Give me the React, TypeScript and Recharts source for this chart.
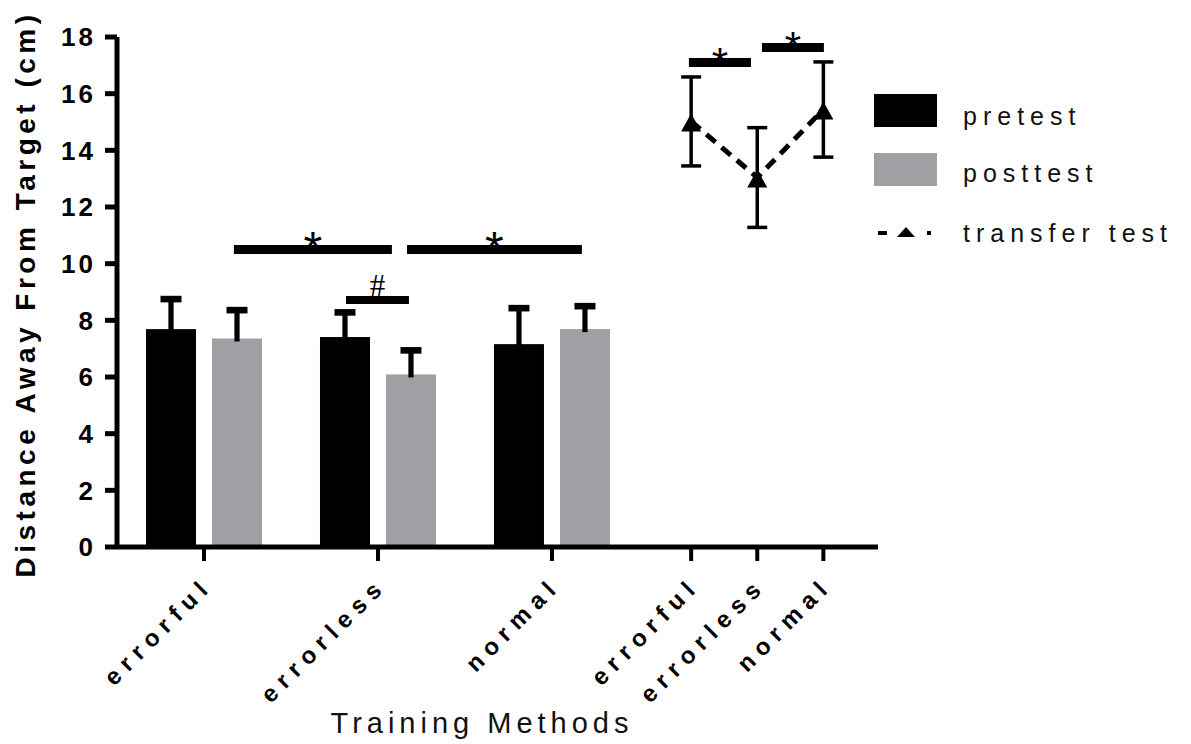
import React from 'react';
import { ComposedChart, Bar, Line, XAxis, YAxis, ErrorBar, ReferenceLine, Legend, Label } from 'recharts';

const FONT = '"Liberation Sans", Arial, sans-serif';
const SERIF = '"Liberation Serif", "Times New Roman", serif';

// ---- data ----
const methods = ['errorful', 'errorless', 'normal'];
const transferMethods = ['errorful', 'errorless', 'normal'];
const seriesNames = ['pretest', 'posttest', 'transfer test'];
const pretest = [7.69, 7.41, 7.16];
const pretestErr = [1.06, 0.87, 1.27];
const posttest = [7.36, 6.09, 7.69];
const posttestErr = [1.0, 0.85, 0.81];
const transfer = [15.02, 13.04, 15.44];
const transferErr = [1.57, 1.76, 1.68];
const yTicks = [0, 2, 4, 6, 8, 10, 12, 14, 16, 18];

// significance annotations (x in category-axis units, y in cm)
const sigBars = [
  { x1: 0.672, x2: 1.58, y: 10.5, label: '*', size: 48, serif: false, dy: 15, thick: 9 },
  { x1: 1.667, x2: 2.672, y: 10.5, label: '*', size: 48, serif: false, dy: 15, thick: 9 },
  { x1: 1.316, x2: 1.678, y: 8.72, label: '#', size: 31, serif: true, dy: -4, thick: 8 },
  { x1: 3.287, x2: 3.644, y: 17.1, label: '*', size: 42, serif: false, dy: 14, thick: 9 },
  { x1: 3.707, x2: 4.063, y: 17.63, label: '*', size: 42, serif: false, dy: 14, thick: 9 },
];

// ---- layout of the category slots on the numeric x axis ----
const barGroupPositions = [0.5, 1.5, 2.5];
const transferPositions = [3.3, 3.68, 4.06];
const X_DOMAIN: [number, number] = [0, 4.374];

const tickPositions = [...barGroupPositions, ...transferPositions];
const tickLabels = [...methods, ...transferMethods];

const barData = methods.map((m, i) => ({
  x: barGroupPositions[i],
  method: m,
  pretest: pretest[i],
  pretestErr: pretestErr[i],
  posttest: posttest[i],
  posttestErr: posttestErr[i],
}));

const transferData = transferMethods.map((m, i) => ({
  x: transferPositions[i],
  method: m,
  transfer: transfer[i],
  transferErr: transferErr[i],
}));

const makeBarShape = (valueKey: string, errKey: string) => (props: any) => {
  const { x, y, width, height, fill, payload } = props;
  if (x == null || !isFinite(y) || !isFinite(height) || height <= 0) return null;
  const v = payload[valueKey];
  const e = payload[errKey];
  const pxPerUnit = height / v;
  const errPx = e * pxPerUnit;
  const cx = x + width / 2;
  const top = y - errPx;
  return (
    <g>
      <rect x={x} y={y} width={width} height={height} fill={fill} />
      <rect x={cx - 2.6} y={top} width={5.2} height={errPx + 3} fill="#000" />
      <rect x={cx - 10.5} y={top - 3.3} width={21} height={6.6} fill="#000" />
    </g>
  );
};

const TriangleDot = (props: any) => {
  const { cx, cy } = props;
  if (cx == null || cy == null || !isFinite(cy)) return null;
  return <path d={`M${cx},${cy - 8} L${cx + 10},${cy + 10} L${cx - 10},${cy + 10} Z`} fill="#000" />;
};

const XTick = (props: any) => {
  const { x, y, index } = props;
  return (
    <g transform={`translate(${x + 10},${y + 24})`}>
      <text
        transform="rotate(-45)"
        textAnchor="end"
        fontSize={24}
        fontWeight="bold"
        fontFamily={FONT}
        letterSpacing={7}
        fill="#000"
      >
        {tickLabels[index]}
      </text>
    </g>
  );
};

const XTitle = () => (
  <text x={482} y={733} textAnchor="middle" fontSize={29} fontFamily={FONT} letterSpacing={5} fill="#111">
    Training Methods
  </text>
);

const YTitle = () => (
  <text
    x={35}
    y={294}
    transform="rotate(-90, 35, 294)"
    textAnchor="middle"
    fontSize={28}
    fontWeight="bold"
    fontFamily={FONT}
    letterSpacing={4.5}
    fill="#000"
  >
    Distance Away From Target (cm)
  </text>
);

const sigLabel = (s: typeof sigBars[number]) => (props: any) => {
  const vb = props.viewBox || {};
  const cx = (vb.x || 0) + (vb.width || 0) / 2;
  return (
    <text
      x={cx}
      y={(vb.y || 0) + s.dy}
      textAnchor="middle"
      fontSize={s.size}
      fontFamily={s.serif ? SERIF : FONT}
      fill="#000"
    >
      {s.label}
    </text>
  );
};

const LegendContent = () => (
  <svg width={320} height={170} style={{ display: 'block' }}>
    <rect x={8} y={9} width={63} height={33} fill="#000" />
    <rect x={8} y={68} width={63} height={33} fill="#a0a0a4" />
    <rect x={12} y={146} width={9} height={4} fill="#000" />
    <path d="M40,142 L49,152 L31,152 Z" fill="#000" />
    <rect x={61} y={146} width={4} height={4} fill="#000" />
    {seriesNames.map((n, i) => (
      <text
        key={n}
        x={97}
        y={[40, 97, 157][i]}
        fontSize={25}
        fontFamily={FONT}
        letterSpacing={6}
        fill="#111"
      >
        {n}
      </text>
    ))}
  </svg>
);

export default function App() {
  return (
    <div style={{ position: 'absolute', left: 0, top: 0, width: 1191, height: 744, background: '#fff' }}>
      <ComposedChart
        width={1191}
        height={744}
        data={barData}
        margin={{ top: 37, right: 313, bottom: 0, left: 0 }}
        barGap={16}
      >
        <XAxis
          type="number"
          dataKey="x"
          domain={X_DOMAIN}
          ticks={tickPositions}
          interval={0}
          allowDataOverflow
          height={197}
          tickSize={14}
          tickLine={{ stroke: '#000', strokeWidth: 4 }}
          axisLine={{ stroke: '#000', strokeWidth: 5 }}
          tick={<XTick />}
        >
          <Label content={<XTitle />} />
        </XAxis>
        <XAxis
          xAxisId="bars"
          type="number"
          dataKey="x"
          domain={X_DOMAIN}
          ticks={barGroupPositions}
          allowDataOverflow
          hide
        />
        <YAxis
          type="number"
          domain={[0, 18]}
          ticks={yTicks}
          interval={0}
          width={117}
          tickSize={12}
          tickMargin={9}
          tickLine={{ stroke: '#000', strokeWidth: 5 }}
          axisLine={{ stroke: '#000', strokeWidth: 5 }}
          tick={{ fill: '#000', fontSize: 26, fontWeight: 'bold', fontFamily: FONT, letterSpacing: 3 }}
        >
          <Label content={<YTitle />} />
        </YAxis>
        <Legend
          layout="horizontal"
          align="center"
          verticalAlign="middle"
          content={<LegendContent />}
          wrapperStyle={{ left: 866, top: 85, width: 320, height: 170 }}
        />
        <Bar xAxisId="bars" dataKey="pretest" name="pretest" fill="#000" barSize={50} isAnimationActive={false} shape={makeBarShape('pretest', 'pretestErr')} />
        <Bar xAxisId="bars" dataKey="posttest" name="posttest" fill="#a0a0a4" barSize={50} isAnimationActive={false} shape={makeBarShape('posttest', 'posttestErr')} />
        <Line
          data={transferData}
          dataKey="transfer"
          name="transfer test"
          stroke="#000"
          strokeWidth={5}
          strokeDasharray="12 8"
          dot={<TriangleDot />}
          activeDot={false}
          isAnimationActive={false}
        >
          <ErrorBar dataKey="transferErr" direction="y" width={10} strokeWidth={3.5} stroke="#000" />
        </Line>
        {sigBars.map((s, i) => (
          <ReferenceLine
            key={i}
            segment={[{ x: s.x1, y: s.y }, { x: s.x2, y: s.y }]}
            stroke="#000"
            strokeWidth={s.thick}
            ifOverflow="visible"
            label={<Label content={sigLabel(s)} />}
          />
        ))}
      </ComposedChart>
    </div>
  );
}
